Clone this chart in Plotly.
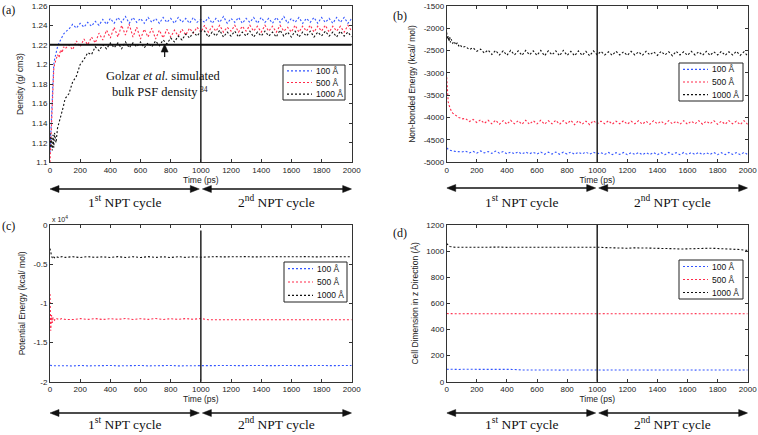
import plotly.graph_objects as go

# ---------------- DATA ----------------
TIME_AB = [0, 5, 10, 15, 20, 25, 30, 40, 50, 60, 70, 80, 90, 100] + list(range(125, 2001, 25))
TIME_CD = [0, 5, 10, 15, 20, 30, 40, 60, 80, 100] + list(range(150, 2001, 50))

SERIES_NAMES = ["100 Å", "500 Å", "1000 Å"]

# (a) Density (g/cm3)
dens_100 = [1.11, 1.13, 1.15, 1.17, 1.19, 1.20, 1.205, 1.212, 1.218, 1.222, 1.226, 1.228, 1.231, 1.233,
            1.236, 1.241, 1.237, 1.242, 1.238, 1.243,
            1.239, 1.244, 1.240, 1.246, 1.241, 1.247,
            1.242, 1.248, 1.243, 1.249, 1.242, 1.248,
            1.243, 1.247, 1.242, 1.248, 1.243, 1.247,
            1.242, 1.248, 1.243, 1.247, 1.242, 1.248,
            1.243, 1.247, 1.242, 1.248, 1.243, 1.246,
            1.243, 1.248, 1.242, 1.247, 1.243, 1.249, 1.242, 1.247,
            1.243, 1.248, 1.242, 1.247, 1.243, 1.248, 1.242, 1.248,
            1.243, 1.247, 1.242, 1.248, 1.243, 1.249, 1.242, 1.247,
            1.243, 1.248, 1.242, 1.247, 1.243, 1.248, 1.242, 1.248,
            1.243, 1.247, 1.242, 1.248, 1.243, 1.248, 1.242, 1.247]
dens_500 = [1.10, 1.12, 1.15, 1.17, 1.185, 1.195, 1.20, 1.205, 1.21, 1.207, 1.215, 1.212, 1.218, 1.216,
            1.220, 1.215, 1.224, 1.218, 1.226, 1.220,
            1.228, 1.222, 1.232, 1.225, 1.235, 1.227,
            1.238, 1.228, 1.240, 1.230, 1.241, 1.228,
            1.238, 1.226, 1.236, 1.228, 1.237, 1.226,
            1.235, 1.227, 1.236, 1.228, 1.235, 1.229,
            1.236, 1.230, 1.237, 1.232, 1.238, 1.233,
            1.240, 1.233, 1.239, 1.234, 1.240, 1.233, 1.238, 1.234,
            1.240, 1.233, 1.239, 1.234, 1.240, 1.234, 1.239, 1.233,
            1.240, 1.234, 1.239, 1.233, 1.240, 1.234, 1.238, 1.233,
            1.240, 1.233, 1.239, 1.234, 1.240, 1.233, 1.239, 1.234,
            1.240, 1.233, 1.239, 1.234, 1.239, 1.233, 1.240, 1.234]
dens_1000 = [1.13, 1.115, 1.125, 1.112, 1.128, 1.115, 1.13, 1.12, 1.135, 1.14, 1.145, 1.152, 1.158, 1.165,
             1.170, 1.182, 1.188, 1.200, 1.205, 1.212,
             1.210, 1.218, 1.214, 1.220, 1.216, 1.222,
             1.217, 1.222, 1.216, 1.223, 1.217, 1.222,
             1.218, 1.223, 1.217, 1.222, 1.218, 1.224,
             1.219, 1.225, 1.221, 1.227, 1.223, 1.229,
             1.225, 1.231, 1.227, 1.233, 1.229, 1.234,
             1.234, 1.228, 1.233, 1.229, 1.235, 1.228, 1.233, 1.229,
             1.234, 1.228, 1.233, 1.229, 1.234, 1.228, 1.233, 1.229,
             1.234, 1.229, 1.233, 1.228, 1.235, 1.229, 1.233, 1.228,
             1.234, 1.228, 1.233, 1.229, 1.234, 1.228, 1.233, 1.229,
             1.234, 1.229, 1.233, 1.228, 1.234, 1.229, 1.233, 1.228]
BULK_DENSITY = 1.22          # Golzar et al. simulated bulk PSF density
ARROW_TIME = 760             # time where the annotation arrow points
ARROW_TAIL = 1.2075

# (b) Non-bonded energy (kcal/mol)
nb_100 = [-4680, -4700, -4710, -4720, -4730, -4735, -4740, -4750, -4755, -4760, -4760, -4765, -4760, -4770,
          -4750, -4790, -4755, -4795, -4745, -4790,
          -4760, -4800, -4750, -4795, -4760, -4810,
          -4770, -4810, -4765, -4815, -4770, -4810,
          -4775, -4815, -4770, -4820, -4775, -4815,
          -4770, -4820, -4775, -4815, -4770, -4820,
          -4775, -4815, -4770, -4820, -4775, -4810,
          -4785, -4825, -4780, -4830, -4785, -4825, -4780, -4830,
          -4785, -4825, -4780, -4830, -4785, -4825, -4780, -4830,
          -4785, -4830, -4780, -4825, -4785, -4830, -4780, -4825,
          -4785, -4825, -4780, -4830, -4785, -4825, -4780, -4830,
          -4785, -4830, -4780, -4825, -4785, -4830, -4780, -4825]
nb_500 = [-3100, -3500, -3650, -3720, -3780, -3820, -3850, -3900, -3930, -3960, -3980, -4000, -4010, -4030,
          -4020, -4090, -4040, -4110, -4050, -4130,
          -4060, -4140, -4060, -4150, -4070, -4150,
          -4060, -4140, -4070, -4150, -4060, -4150,
          -4070, -4140, -4060, -4150, -4070, -4140,
          -4060, -4150, -4070, -4140, -4060, -4160,
          -4070, -4150, -4080, -4160, -4070, -4140,
          -4080, -4140, -4070, -4150, -4080, -4140, -4070, -4150,
          -4080, -4140, -4070, -4150, -4080, -4150, -4070, -4140,
          -4080, -4150, -4070, -4140, -4080, -4150, -4070, -4150,
          -4080, -4140, -4070, -4150, -4080, -4140, -4070, -4150,
          -4080, -4150, -4070, -4140, -4080, -4160, -4070, -4150]
nb_1000 = [-2100, -2250, -2180, -2300, -2200, -2320, -2250, -2340, -2300, -2380, -2330, -2400, -2370, -2430,
           -2410, -2480, -2440, -2520, -2470, -2560,
           -2490, -2590, -2500, -2600, -2510, -2610,
           -2500, -2600, -2510, -2610, -2500, -2600,
           -2510, -2610, -2500, -2620, -2510, -2600,
           -2510, -2620, -2500, -2610, -2520, -2620,
           -2510, -2610, -2520, -2620, -2510, -2600,
           -2520, -2600, -2530, -2610, -2520, -2600, -2530, -2610,
           -2520, -2600, -2530, -2610, -2520, -2600, -2530, -2610,
           -2520, -2600, -2530, -2620, -2520, -2600, -2530, -2610,
           -2520, -2600, -2530, -2610, -2520, -2610, -2530, -2600,
           -2520, -2610, -2530, -2600, -2520, -2610, -2530, -2620]

# (c) Potential energy (kcal/mol), axis shown in units of 10^4
pe_100 = [-17900, -17950, -17980, -17960, -17970, -17960, -17980, -17950, -17970, -17960,
          -17990, -17930, -17980, -17940, -17990, -17930, -17980, -17940, -17990, -17930,
          -17980, -17940, -17990, -17930, -17980, -17940, -17990, -17950,
          -17950, -17920, -17960, -17930, -17950, -17920, -17960, -17930, -17950, -17920,
          -17960, -17930, -17950, -17920, -17960, -17930, -17950, -17920, -17960, -17930]
pe_500 = [-8800, -13500, -11500, -12500, -11800, -12150, -11900, -12080, -11930, -12050,
          -12070, -11950, -12050, -11940, -12060, -11950, -12040, -11940, -12060, -11960,
          -12040, -11940, -12060, -11960, -12050, -11940, -12040, -11930,
          -12100, -12080, -12100, -12090, -12110, -12090, -12100, -12080, -12100, -12090,
          -12110, -12090, -12100, -12080, -12100, -12090, -12110, -12090, -12100, -12100]
pe_1000 = [-3000, -3600, -3900, -4200, -4000, -4180, -4050, -4150, -4040, -4130,
           -4050, -4150, -4040, -4130, -4060, -4150, -4040, -4140, -4050, -4150,
           -4040, -4140, -4060, -4150, -4040, -4130, -4060, -4110,
           -4060, -4040, -4070, -4030, -4060, -4040, -4070, -4030, -4070, -4040,
           -4060, -4030, -4060, -4040, -4070, -4030, -4060, -4040, -4060, -4040]
PE_SCALE = 1e4

# (d) Cell dimension in z direction (Å)
cz_100 = [95, 94, 95, 93, 94, 95, 94, 93, 94, 95,
          95, 94, 95, 94, 95, 96, 94, 90, 89, 90,
          89, 90, 89, 90, 89, 90, 89, 90,
          89, 90, 89, 90, 89, 90, 89, 90, 89, 90,
          89, 90, 89, 90, 89, 90, 89, 90, 89, 90]
cz_500 = [522, 521, 521, 520, 521, 521, 520, 521, 521, 521,
          521, 520, 521, 521, 520, 521, 521, 520, 521, 521,
          520, 521, 521, 520, 521, 521, 520, 521,
          521, 520, 521, 521, 520, 521, 521, 520, 521, 521,
          520, 521, 521, 520, 521, 521, 520, 521, 521, 520]
cz_1000 = [1058, 1050, 1045, 1040, 1036, 1033, 1031, 1030, 1031, 1030,
           1030, 1029, 1031, 1030, 1031, 1029, 1030, 1031, 1030, 1029,
           1031, 1030, 1030, 1031, 1029, 1030, 1031, 1030,
           1027, 1024, 1026, 1022, 1025, 1026, 1023, 1021, 1022, 1019,
           1016, 1018, 1020, 1021, 1022, 1020, 1019, 1015, 1012, 1005]

CYCLE_SPLIT = 1000
T_END = 2000
X_TICKS = list(range(0, 2001, 200))

# ---------------- STYLE ----------------
W, H = 758, 435
COLORS = ["#3355ff", "#ff2a4a", "#111111"]
SANS = "Liberation Sans, Arial, sans-serif"
SERIF = "Liberation Serif, Times New Roman, serif"
DASH = "2px,2px"

XA = [50 / W, 351.7 / W]
XB = [446.7 / W, 747.7 / W]
YTOP = [1 - 162.3 / H, 1 - 5.7 / H]
YBOT = [1 - 381.7 / H, 1 - 225 / H]

fig = go.Figure()

panels = [
    ("", TIME_AB, [dens_100, dens_500, dens_1000], 1.0),
    ("2", TIME_AB, [nb_100, nb_500, nb_1000], 1.0),
    ("3", TIME_CD, [pe_100, pe_500, pe_1000], PE_SCALE),
    ("4", TIME_CD, [cz_100, cz_500, cz_1000], 1.0),
]
for suf, t, series, scale in panels:
    for name, vals, col in zip(SERIES_NAMES, series, COLORS):
        fig.add_trace(go.Scatter(
            x=t, y=[v / scale for v in vals], mode="lines", name=name,
            line=dict(color=col, width=1.1, dash=DASH),
            xaxis="x" + suf, yaxis="y" + suf, showlegend=False))

axis_common = dict(showline=True, linecolor="#333", linewidth=1, mirror="ticks",
                   ticks="inside", ticklen=3, tickcolor="#333", showgrid=False,
                   zeroline=False, tickfont=dict(family=SANS, size=8, color="#222"))

def xax(domain, anchor):
    return dict(axis_common, domain=domain, anchor=anchor, range=[0, T_END],
                tickvals=X_TICKS, ticktext=[str(v) for v in X_TICKS],
                title=dict(text="Time (ps)", font=dict(family=SANS, size=8.5, color="#222"), standoff=2))

def yax(domain, anchor, rng, vals, txt, title):
    return dict(axis_common, domain=domain, anchor=anchor, range=rng,
                tickvals=vals, ticktext=txt,
                title=dict(text=title, font=dict(family=SANS, size=8.5, color="#222"), standoff=6))

ya_vals = [1.10, 1.12, 1.14, 1.16, 1.18, 1.20, 1.22, 1.24, 1.26]
ya_txt = ["1.1", "1.12", "1.14", "1.16", "1.18", "1.2", "1.22", "1.24", "1.26"]
yb_vals = list(range(-5000, -1499, 500))
yc_vals = [-2, -1.5, -1, -0.5, 0]
yd_vals = list(range(0, 1201, 200))

fig.update_layout(
    width=W, height=H, margin=dict(l=0, r=0, t=0, b=0, autoexpand=False),
    paper_bgcolor="white", plot_bgcolor="white", showlegend=False,
    xaxis=xax(XA, "y"), xaxis2=xax(XB, "y2"), xaxis3=xax(XA, "y3"), xaxis4=xax(XB, "y4"),
    yaxis=yax(YTOP, "x", [1.1, 1.26], ya_vals, ya_txt, "Density (g/ cm3)"),
    yaxis2=yax(YTOP, "x2", [-5000, -1500], yb_vals, [str(v) for v in yb_vals], "Non-bonded Energy (kcal/ mol)"),
    yaxis3=yax(YBOT, "x3", [-2, 0], yc_vals, ["-2", "-1.5", "-1", "-0.5", "0"], "Potential Energy (kcal/ mol)"),
    yaxis4=yax(YBOT, "x4", [0, 1200], yd_vals, [str(v) for v in yd_vals], "Cell Dimension in z Direction (Å)"),
)

# ---- compact boxed legends (MATLAB style) ----
def px_x(v):
    return v / W

def px_y(v):
    return 1 - v / H

def add_legend(bx, by, bw, bh):
    fig.add_shape(type="rect", xref="paper", yref="paper",
                  x0=px_x(bx), x1=px_x(bx + bw), y0=px_y(by + bh), y1=px_y(by),
                  line=dict(color="#222", width=1), fillcolor="white", layer="above")
    step = bh / 3
    for i, (name, col) in enumerate(zip(SERIES_NAMES, COLORS)):
        yy = by + step * (i + 0.5)
        fig.add_shape(type="line", xref="paper", yref="paper",
                      x0=px_x(bx + 4), x1=px_x(bx + 29), y0=px_y(yy), y1=px_y(yy),
                      line=dict(color=col, width=1.1, dash=DASH), layer="above")
        fig.add_annotation(xref="paper", yref="paper", x=px_x(bx + 31), y=px_y(yy),
                           text=name, showarrow=False, xanchor="left", yanchor="middle",
                           font=dict(family=SANS, size=8.5, color="#111"))

add_legend(283, 65, 62, 35)
add_legend(679, 63, 64, 38)
add_legend(284, 262, 63, 40)
add_legend(679, 260, 64, 39)

# vertical cycle separators
for suf in ["", "2", "3", "4"]:
    fig.add_shape(type="line", xref="x" + suf, yref="y" + suf + " domain",
                  x0=CYCLE_SPLIT, x1=CYCLE_SPLIT, y0=0, y1=1 if suf != "3" else 0.965,
                  line=dict(color="#222", width=1.5))

# bulk density reference line with pointer
fig.add_shape(type="line", xref="x", yref="y", x0=0, x1=T_END, y0=BULK_DENSITY, y1=BULK_DENSITY,
              line=dict(color="#111", width=2))
fig.add_shape(type="line", xref="x", yref="y", x0=ARROW_TIME, x1=ARROW_TIME,
              y0=ARROW_TAIL, y1=BULK_DENSITY - 0.004, line=dict(color="#111", width=1.2))
fig.add_shape(type="path", xref="x", yref="y", xsizemode="pixel", ysizemode="pixel",
              xanchor=ARROW_TIME, yanchor=BULK_DENSITY + 0.0008,
              path="M0,0 L-3.5,-8 L3.5,-8 Z", fillcolor="#111", line=dict(color="#111", width=0.5))
fig.add_annotation(xref="x", yref="y", x=752, y=1.1877, text="Golzar <i>et al.</i> simulated",
                   showarrow=False, font=dict(family=SERIF, size=12.5, color="#111"))
fig.add_annotation(xref="x", yref="y", x=693, y=1.1718, text="bulk PSF density",
                   showarrow=False, font=dict(family=SERIF, size=12.5, color="#111"))
fig.add_annotation(xref="x", yref="y", x=1021, y=1.1744, text="34",
                   showarrow=False, font=dict(family=SERIF, size=7.5, color="#111"))

# NPT cycle double arrows and labels
# (suffix, arrow row px, label y px, label anchor)
rows = [("", 189, 201, "middle"), ("2", 188, 201, "middle"),
        ("3", 413, 434, "bottom"), ("4", 413, 434, "bottom")]
for suf, ya, yt, anc in rows:
    for x0, x1 in [(0, CYCLE_SPLIT - 10), (CYCLE_SPLIT + 10, T_END)]:
        fig.add_shape(type="line", xref="x" + suf, yref="paper", x0=x0 + 15, x1=x1 - 15,
                      y0=px_y(ya), y1=px_y(ya), line=dict(color="#111", width=1.5))
        fig.add_shape(type="path", xref="x" + suf, yref="paper", xsizemode="pixel", ysizemode="pixel",
                      xanchor=x0, yanchor=px_y(ya), path="M0,0 L9,3.5 L9,-3.5 Z",
                      fillcolor="#111", line=dict(color="#111", width=0.5))
        fig.add_shape(type="path", xref="x" + suf, yref="paper", xsizemode="pixel", ysizemode="pixel",
                      xanchor=x1, yanchor=px_y(ya), path="M0,0 L-9,3.5 L-9,-3.5 Z",
                      fillcolor="#111", line=dict(color="#111", width=0.5))
    fig.add_annotation(xref="x" + suf, yref="paper", x=CYCLE_SPLIT / 2, y=px_y(yt), yanchor=anc,
                       text="1<sup>st</sup> NPT cycle", showarrow=False,
                       font=dict(family=SERIF, size=13.5, color="#111"))
    fig.add_annotation(xref="x" + suf, yref="paper", x=(CYCLE_SPLIT + T_END) / 2, y=px_y(yt), yanchor=anc,
                       text="2<sup>nd</sup> NPT cycle", showarrow=False,
                       font=dict(family=SERIF, size=13.5, color="#111"))

# panel labels
for lab, px, py in [("(a)", 0, 1), ("(b)", 391, 7), ("(c)", 0, 217), ("(d)", 391, 224)]:
    fig.add_annotation(xref="paper", yref="paper", x=px_x(px), y=px_y(py), text=lab,
                       showarrow=False, xanchor="left", yanchor="top",
                       font=dict(family=SERIF, size=12, color="#111"))

# exponent label for panel (c)
fig.add_annotation(xref="paper", yref="paper", x=px_x(50), y=px_y(213), text="x 10<sup>4</sup>",
                   showarrow=False, xanchor="left", yanchor="top",
                   font=dict(family=SANS, size=7, color="#222"))

fig.write_html("out.html", config={"displayModeBar": False},
               post_script="document.body.style.margin='0px';")
